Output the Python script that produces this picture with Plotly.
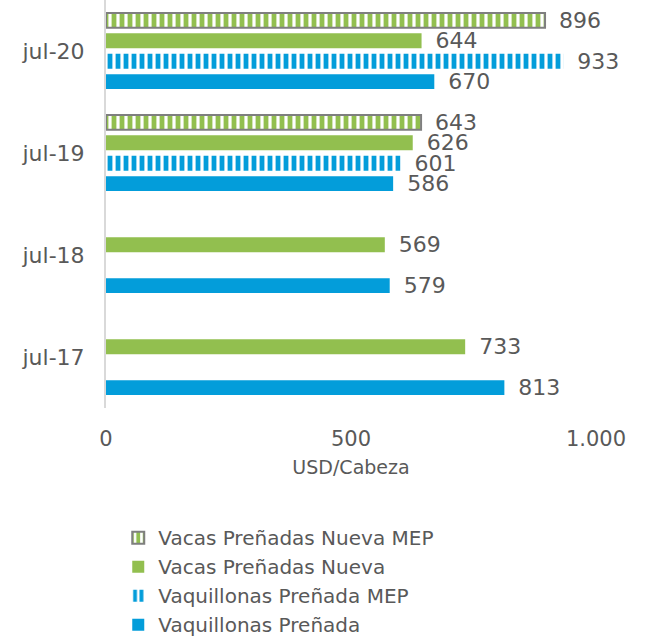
import plotly.graph_objects as go

categories = ["jul-17", "jul-18", "jul-19", "jul-20"]
vaquillonas = [813, 579, 586, 670]
vaquillonas_mep = [None, None, 601, 933]
vacas_nueva = [733, 569, 626, 644]
vacas_nueva_mep = [None, None, 643, 896]
x_ticks = [0, 500, 1000]
x_tick_labels = ["0", "500", "1.000"]

GREEN = "#92BF4F"
BLUE = "#039DDA"
GRAY_TXT = "#595959"
FONT = "DejaVu Sans"

def labels(vals):
    return ["" if v is None else "\u2002" + str(v) for v in vals]

fig = go.Figure()
fig.add_trace(go.Bar(
    y=categories, x=vaquillonas, orientation="h", name="Vaquillonas Preñada",
    marker=dict(color=BLUE, line=dict(width=0)),
    text=labels(vaquillonas),
))
fig.add_trace(go.Bar(
    y=categories, x=vaquillonas_mep, orientation="h", name="Vaquillonas Preñada MEP",
    marker=dict(color=BLUE, line=dict(width=0),
                pattern=dict(shape="|", fgcolor=BLUE, bgcolor="white", solidity=0.6,
                             size=8, fgopacity=1)),
    text=labels(vaquillonas_mep),
))
fig.add_trace(go.Bar(
    y=categories, x=vacas_nueva, orientation="h", name="Vacas Preñadas Nueva",
    marker=dict(color=GREEN, line=dict(width=0)),
    text=labels(vacas_nueva),
))
fig.add_trace(go.Bar(
    y=categories, x=vacas_nueva_mep, orientation="h", name="Vacas Preñadas Nueva MEP",
    marker=dict(color=GREEN, line=dict(width=2, color="#7F7F7F"),
                pattern=dict(shape="|", fgcolor="white", bgcolor=GREEN, solidity=0.4,
                             size=8, fgopacity=1)),
    text=labels(vacas_nueva_mep),
))

fig.update_traces(textposition="outside", cliponaxis=False, constraintext="none",
                  textfont=dict(size=22, color=GRAY_TXT, family=FONT))

fig.update_layout(
    width=647, height=637,
    margin=dict(l=106, r=51, t=0, b=229, autoexpand=False),
    paper_bgcolor="white", plot_bgcolor="white",
    barmode="group", bargap=0.2, bargroupgap=0.27,
    font=dict(family=FONT, color=GRAY_TXT, size=20),
    showlegend=True,
    legend=dict(
        traceorder="reversed", orientation="v",
        x=0.025, y=-0.27, xanchor="left", yanchor="top",
        font=dict(size=20, color=GRAY_TXT, family=FONT),
        itemwidth=30, tracegroupgap=0, bgcolor="rgba(0,0,0,0)",
    ),
    xaxis=dict(
        range=[0, 1000], tickvals=x_ticks, ticktext=x_tick_labels,
        showgrid=False, zeroline=False, showline=False, automargin=False,
        ticks="outside", ticklen=12, tickcolor="rgba(0,0,0,0)",
        tickfont=dict(size=21, color=GRAY_TXT),
        title=dict(text="USD/Cabeza", font=dict(size=19, color=GRAY_TXT), standoff=10),
    ),
    yaxis=dict(
        showgrid=False, zeroline=False, automargin=False,
        showline=True, linecolor="#D9D9D9", linewidth=2,
        ticks="outside", ticklen=15, tickcolor="rgba(0,0,0,0)",
        tickfont=dict(size=22, color=GRAY_TXT),
    ),
)

fig.write_html("out.html", config={"displayModeBar": False},
               post_script="document.body.style.margin='0';")
